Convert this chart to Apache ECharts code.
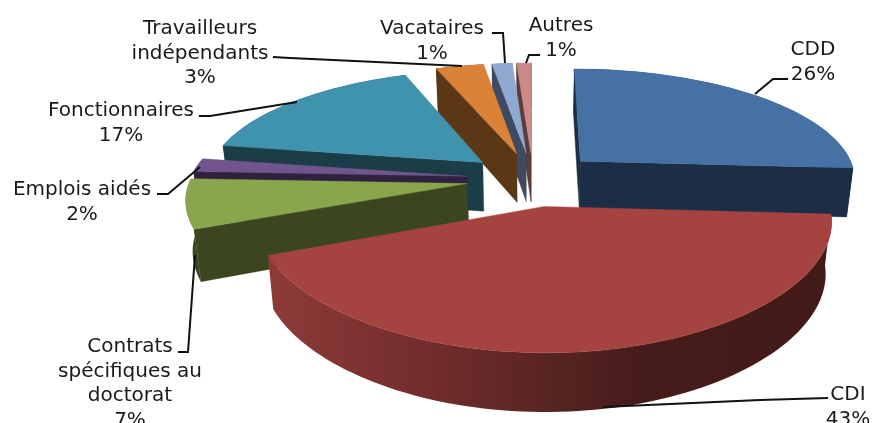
<!DOCTYPE html>
<html><head><meta charset="utf-8">
<style>html,body{margin:0;padding:0;background:#fff}#c{width:875px;height:423px}</style>
<script src="https://cdn.jsdelivr.net/npm/echarts@6/dist/echarts.min.js"></script>
</head><body><div id="c"></div>
<script>
const categories = ['CDD','CDI','Contrats\nspécifiques au\ndoctorat','Emplois aidés','Fonctionnaires','Travailleurs\nindépendants','Vacataires','Autres'];
const values = [26,42.8,6.9,1.9,16.7,3.3,1.4,1];
const percentLabels = ['26%','43%','7%','2%','17%','3%','1%','1%'];
const topColors = ['#4571A5','#A54341','#8AA64D','#70558C','#3F93AD','#DB8239','#90A9D1','#CB8A88'];
const sideColors = ['#1B2E45','#431A18','#3B4520','#30223F','#1B3D48','#5C3716','#3D4A60','#5C3C3B'];
const labelPos = [[813,50],[848,395],[130,347],[82,190],[121,111],[200,29],[432,29],[561,26]];
const leaders = [
  [[788,79],[773,79],[755,94]],
  [[828,398],[760,400],[603,407]],
  [[178,352],[188,352],[195,255]],
  [[157,194],[168,194],[200,167]],
  [[199,116],[210,116],[297,102]],
  [[273,57],[290,58],[462,66]],
  [[492,33],[503,33],[505,63]],
  [[540,55],[529,55],[526,63]]
];
// projection of the pie disc
const CX=533, CY=179, R=277, A=111, P=0.17, PX=0.12, PB=0.15, EXPLODE=0.24, DEPTH=49.5, KZ=0.98;
function project(X,Y,low){
  const k=1/(1+(Y>0?PB:P)*Y), kx=1/(1+(Y>0?PB:PX)*Y);
  let sx=X*R*kx, sy=-Y*A*k;
  if(low){ sx*=KZ; sy=sy*KZ+DEPTH*k; }
  return [CX+sx, CY+sy];
}
const total=values.reduce((a,b)=>a+b,0);
let cum=0;
const slices=values.map((v,i)=>{const s=cum; cum+=v; return {value:[s,cum,i]};});
const midY=d=>Math.cos(((d.value[0]+d.value[1])/2)/total*2*Math.PI);
slices.sort((a,b)=>midY(b)-midY(a));

function area(p){let s=0;for(let i=0;i<p.length;i++){const q=p[(i+1)%p.length];s+=p[i][0]*q[1]-q[0]*p[i][1];}return s;}
function poly(points,fill){return {type:'polygon',shape:{points},style:{fill,stroke:fill,lineWidth:0.4}};}

function renderItem(params,api){
  const a0=api.value(0)/total*2*Math.PI, a1=api.value(1)/total*2*Math.PI, i=api.value(2);
  const m=(a0+a1)/2, ox=Math.sin(m)*EXPLODE, oy=Math.cos(m)*EXPLODE;
  const steps=Math.max(2,Math.ceil((a1-a0)/0.03));
  const top=[],low=[];
  for(let j=0;j<=steps;j++){
    const a=a0+(a1-a0)*j/steps, X=ox+Math.sin(a), Y=oy+Math.cos(a);
    top.push(project(X,Y,false)); low.push(project(X,Y,true));
  }
  const at=project(ox,oy,false), al=project(ox,oy,true);
  const side=sideColors[i];
  const children=[];
  const sw=[at,top[0],low[0],al], ew=[at,top[steps],low[steps],al];
  if(area(sw)<0) children.push(poly(sw,side));
  if(area(ew)>0) children.push(poly(ew,side));
  let wallFill=side;
  if(i===1){
    wallFill=new echarts.graphic.LinearGradient(266,0,836,0,[
      {offset:0,color:'#8E3B39'},{offset:0.3,color:'#702C2B'},{offset:0.48,color:'#5A2524'},
      {offset:0.66,color:'#451C1A'},{offset:1,color:'#431A18'}],true);
  }
  children.push({type:'polygon',shape:{points:top.concat(low.slice().reverse())},style:{fill:wallFill}});
  children.push(poly([at].concat(top),topColors[i]));
  return {type:'group',children};
}

const textEls=categories.map((c,i)=>({
  type:'text',x:labelPos[i][0],y:labelPos[i][1],z:10,
  style:{text:c+'\n'+percentLabels[i],fill:'#1a1a1a',align:'center',verticalAlign:'top',
    font:'20px "DejaVu Sans"',lineHeight:24.5,y:-12}
}));
const lineEls=leaders.map(pts=>({type:'polyline',z:9,shape:{points:pts},style:{stroke:'#111',lineWidth:2,fill:null}}));

const chart=echarts.init(document.getElementById('c'),null,{renderer:'canvas'});
chart.setOption({
  animation:false,
  backgroundColor:'#fff',
  series:[{type:'custom',coordinateSystem:'none',renderItem,data:slices,silent:true,clip:false}],
  graphic:{elements:lineEls.concat(textEls)}
});
</script></body></html>
